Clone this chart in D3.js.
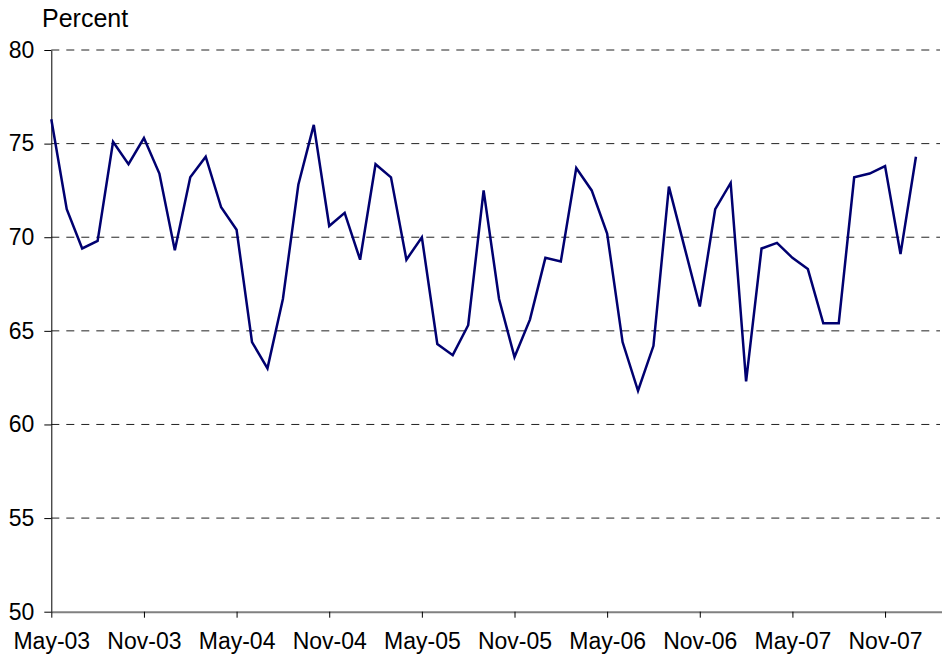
<!DOCTYPE html>
<html>
<head>
<meta charset="utf-8">
<script src="https://cdn.jsdelivr.net/npm/d3@7"></script>
<style>
  html, body { margin: 0; padding: 0; background: #fff; }
  svg text { font-family: Arial, "Liberation Sans", sans-serif; fill: #000; }
</style>
</head>
<body>
<svg id="chart" width="942" height="659"></svg>
<script>
// Monthly series, May-03 through Jan-08
const months = [
  "May-03","Jun-03","Jul-03","Aug-03","Sep-03","Oct-03","Nov-03","Dec-03",
  "Jan-04","Feb-04","Mar-04","Apr-04","May-04","Jun-04","Jul-04","Aug-04",
  "Sep-04","Oct-04","Nov-04","Dec-04","Jan-05","Feb-05","Mar-05","Apr-05",
  "May-05","Jun-05","Jul-05","Aug-05","Sep-05","Oct-05","Nov-05","Dec-05",
  "Jan-06","Feb-06","Mar-06","Apr-06","May-06","Jun-06","Jul-06","Aug-06",
  "Sep-06","Oct-06","Nov-06","Dec-06","Jan-07","Feb-07","Mar-07","Apr-07",
  "May-07","Jun-07","Jul-07","Aug-07","Sep-07","Oct-07","Nov-07","Dec-07",
  "Jan-08"
];

const values = [
  76.3, 71.5, 69.4, 69.8, 75.1, 73.9, 75.3, 73.4,
  69.3, 73.2, 74.3, 71.6, 70.4, 64.4, 63.0, 66.7,
  72.8, 76.0, 70.6, 71.3, 68.8, 73.9, 73.2, 68.8,
  70.0, 64.3, 63.7, 65.3, 72.5, 66.7, 63.6, 65.6,
  68.9, 68.7, 73.7, 72.5, 70.2, 64.4, 61.8, 64.2,
  72.7, 69.5, 66.3, 71.5, 72.9, 62.3, 69.4, 69.7,
  68.9, 68.3, 65.4, 65.4, 73.2, 73.4, 73.8, 69.1,
  74.3
];

// x tick labels every six months
const xTickLabels = ["May-03","Nov-03","May-04","Nov-04","May-05","Nov-05","May-06","Nov-06","May-07","Nov-07"];
const yTicks = [50, 55, 60, 65, 70, 75, 80];

const svg = d3.select('#chart');

const plotLeft = 51.3, plotTop = 50, plotBottom = 611.7, step = 15.44;
const slots = 58; // axis runs one step past the last point

const x = d3.scaleLinear().domain([0, slots]).range([plotLeft, plotLeft + slots * step]);
const y = d3.scaleLinear().domain([50, 80]).range([plotBottom, plotTop]);

// Dashed grid lines
svg.append('g')
  .selectAll('line')
  .data(yTicks.filter((d) => d > 50))
  .join('line')
  .attr('x1', plotLeft)
  .attr('x2', 940)
  .attr('y1', (d) => y(d))
  .attr('y2', (d) => y(d))
  .attr('stroke', '#222')
  .attr('stroke-width', 1)
  .attr('stroke-dasharray', '8,7');

// Y axis
const yAxis = svg.append('g')
  .attr('transform', `translate(${plotLeft},0)`)
  .call(d3.axisLeft(y).tickValues(yTicks).tickSize(7).tickPadding(10).tickSizeOuter(0));
yAxis.select('.domain').attr('stroke', '#000');
yAxis.selectAll('.tick line').attr('stroke', '#000');
yAxis.selectAll('.tick text').attr('font-size', 23).style('font-family', 'Arial, "Liberation Sans", sans-serif');

// X axis
const xAxis = svg.append('g')
  .attr('transform', `translate(0,${plotBottom})`)
  .call(d3.axisBottom(x)
    .tickValues(xTickLabels.map((m) => months.indexOf(m)))
    .tickFormat((i) => months[i])
    .tickSize(6)
    .tickPadding(15)
    .tickSizeOuter(0));
xAxis.select('.domain').attr('stroke', '#808080').attr('stroke-width', 2);
xAxis.selectAll('.tick line').attr('stroke', '#000');
xAxis.selectAll('.tick text').attr('font-size', 23).style('font-family', 'Arial, "Liberation Sans", sans-serif');

// Series line
const line = d3.line()
  .x((d, i) => x(i))
  .y((d) => y(d));

svg.append('path')
  .datum(values)
  .attr('fill', 'none')
  .attr('stroke', '#000070')
  .attr('stroke-width', 2.5)
  .attr('stroke-linejoin', 'miter')
  .attr('d', line);

// Unit label
svg.append('text')
  .attr('x', 42)
  .attr('y', 27)
  .attr('font-size', 25)
  .text('Percent');
</script>
</body>
</html>
